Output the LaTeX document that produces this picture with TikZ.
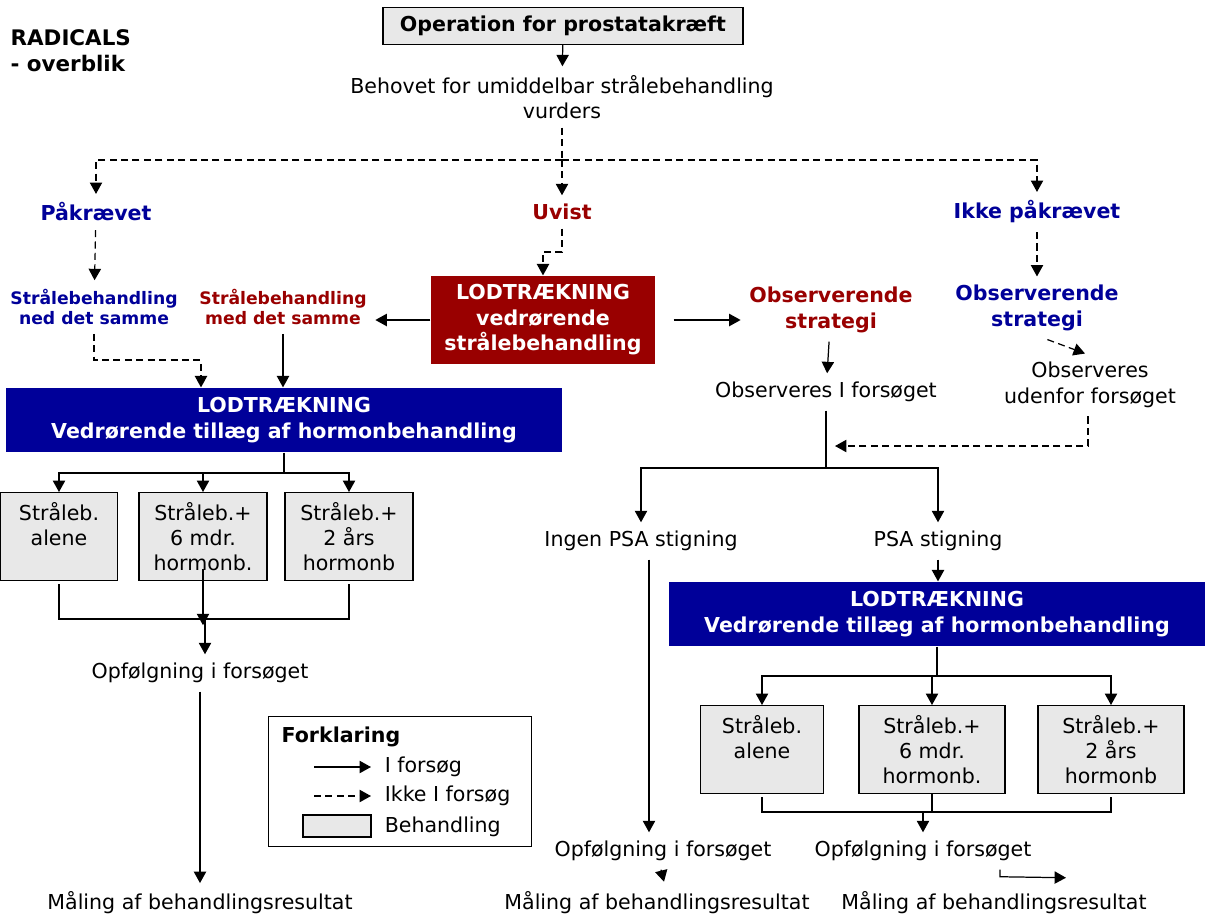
\documentclass[tikz,border=0pt]{standalone}
\usepackage{fontspec}
\setmainfont{DejaVu Sans}
\usetikzlibrary{arrows.meta}
\definecolor{lotblue}{HTML}{000099}
\definecolor{lotred}{HTML}{990000}
\definecolor{boxgray}{HTML}{E8E8E8}
\newcommand\mainfs{\fontsize{11.7}{14.5}\selectfont}
\newcommand\smallfs{\fontsize{9.8}{11.6}\selectfont}

\begin{document}
\begin{tikzpicture}[
    x=0.02cm, y=-0.02cm,
    font=\mainfs,
    line width=0.7pt,
    arr/.style={-{Triangle[length=6.5pt,width=7pt]}},
    dsh/.style={arr, dash pattern=on 4pt off 2.5pt},
    lbl/.style={align=center, inner sep=1pt, outer sep=4pt},
    bluelbl/.style={lbl, text=lotblue, font=\mainfs\bfseries},
    redlbl/.style={lbl, text=lotred, font=\mainfs\bfseries},
    headbox/.style={draw, fill=boxgray, font=\mainfs\bfseries,
      minimum width=7.2cm, minimum height=0.74cm},
    lotbox/.style={align=center, text=white, font=\mainfs\bfseries, inner sep=0pt},
    behbox/.style={draw, fill=boxgray, align=center, anchor=north,
      minimum height=1.76cm, inner sep=2pt},
  ]
  \useasboundingbox (0,0) rectangle (1211,917);

  \node[anchor=north west, align=left, font=\fontsize{12.2}{14.8}\selectfont\bfseries, inner sep=0pt] (title)
    at (10,29) {RADICALS\\- overblik};

  \node[headbox] (op) at (563,26) {Operation for prostatakræft};
  \node[lbl] (beh) at (562,97) {Behovet for umiddelbar strålebehandling\\vurders};

  \node[bluelbl] (pak) at (96,212) {Påkrævet};
  \node[redlbl] (uvist) at (562,212) {Uvist};
  \node[bluelbl] (ikke) at (1037,212) {Ikke påkrævet};
  \coordinate (split) at (562,160);

  \node[bluelbl, font=\smallfs\bfseries] (st1) at (94,307) {Strålebehandling\\ned det samme};
  \node[redlbl, font=\smallfs\bfseries] (st2) at (283,307) {Strålebehandling\\med det samme};
  \node[lotbox, fill=lotred, minimum width=4.48cm, minimum height=1.76cm] (lotr)
    at (543,320) {LODTRÆKNING\\vedrørende\\strålebehandling};
  \node[redlbl] (obsr) at (831,310) {Observerende\\strategi};
  \node[bluelbl] (obsb) at (1037,308) {Observerende\\strategi};

  \node[lotbox, fill=lotblue, minimum width=11.14cm, minimum height=1.28cm] (lotb)
    at (284,420) {LODTRÆKNING\\Vedrørende tillæg af hormonbehandling};
  \coordinate (j1) at (201,360);
  \coordinate (b1) at (284,473);

  \node[behbox, minimum width=2.34cm] (g1) at (59,492) {Stråleb.\\alene\\~};
  \node[behbox, minimum width=2.56cm] (g2) at (203,492) {Stråleb.+\\6 mdr.\\hormonb.};
  \node[behbox, minimum width=2.56cm] (g3) at (349,492) {Stråleb.+\\2 års\\hormonb};
  \coordinate (jl) at (205,619);
  \node[lbl] (opl) at (200,673) {Opfølgning i forsøget};
  \node[lbl] (mall) at (200,903) {Måling af behandlingsresultat};

  \node[draw, anchor=north west, minimum width=5.26cm, minimum height=2.6cm] (leg) at (268,716) {};
  \node[anchor=west, font=\mainfs\bfseries, inner sep=0pt] (legt) at (281,737) {Forklaring};
  \node[lbl, anchor=west] (lt1) at (376,767) {I forsøg};
  \node[lbl, anchor=west] (lt2) at (376,796) {Ikke I forsøg};
  \node[lbl, anchor=west] (lt3) at (376,827) {Behandling};
  \node[draw, fill=boxgray, minimum width=1.36cm, minimum height=0.44cm, inner sep=0pt] (legbox)
    at (337,826) {};

  \node[lbl] (obsI) at (826,392) {Observeres I forsøget};
  \node[lbl] (obsU) at (1090,385) {Observeres\\udenfor forsøget};
  \coordinate (k) at (835,446);
  \coordinate (b2) at (826,468);
  \node[lbl] (ingen) at (641,541) {Ingen PSA stigning};
  \node[lbl] (psa) at (938,541) {PSA stigning};

  \node[lotbox, fill=lotblue, minimum width=10.74cm, minimum height=1.28cm] (lotb2)
    at (937,614) {LODTRÆKNING\\Vedrørende tillæg af hormonbehandling};
  \coordinate (b3) at (937,676);
  \node[behbox, minimum width=2.46cm] (h1) at (762,705) {Stråleb.\\alene\\~};
  \node[behbox, minimum width=2.92cm] (h2) at (932,705) {Stråleb.+\\6 mdr.\\hormonb.};
  \node[behbox, minimum width=2.92cm] (h3) at (1111,705) {Stråleb.+\\2 års\\hormonb};
  \coordinate (jr) at (932,812);
  \node[lbl] (opm) at (663,851) {Opfølgning i forsøget};
  \node[lbl] (opr) at (923,851) {Opfølgning i forsøget};
  \node[lbl] (malm) at (657,903) {Måling af behandlingsresultat};
  \node[lbl] (malr) at (994,903) {Måling af behandlingsresultat};

  \draw[arr] (op) -- (beh);
  \draw[dash pattern=on 4pt off 2.5pt] (beh) -- (split);
  \draw[dsh] (split) -| (pak);
  \draw[dsh] (split) -- (uvist);
  \draw[dsh] (split) -| (ikke);

  \draw[dsh] (pak) -- (st1);
  \draw[dsh] (uvist) -- (uvist |- 0,252) -| (lotr);
  \draw[dsh] (ikke) -- (obsb);
  \draw[arr] (lotr.west) -- (lotr.west -| st2.east);
  \draw[arr] ([xshift=.36cm]lotr.east) -- (lotr.east -| obsr.west);

  \draw[dsh] (st1) |- (j1) -- (j1 |- lotb.north);
  \draw[arr] (st2) -- (st2 |- lotb.north);
  \draw (lotb) -- (b1);
  \draw[arr] (b1) -| (g1);
  \draw[arr] (b1) -| (g2);
  \draw[arr] (b1) -| (g3);
  \draw ([yshift=-.06cm]g1.south) |- (jl) -| ([yshift=-.06cm]g3.south);
  \draw[arr] (g2.south) ++(0,-12) -- ++(0,56);
  \draw[arr] (jl) -- (jl |- opl.north);
  \draw[arr] (opl) -- (mall);

  \draw[arr] (lt1.west) ++(-62,0) -- ++(57,0);
  \draw[dsh] (lt2.west) ++(-62,0) -- ++(57,0);

  \draw[arr] (obsr) -- (obsI);
  \draw[dsh] (obsb.south east) ++(-80,0) -- ([xshift=-.1cm]obsU.north);
  \draw[dsh] ([xshift=-.04cm]obsU.south) |- (k);
  \draw (obsI) -- (b2);
  \draw[arr] (b2) -| (ingen);
  \draw[arr] (b2) -| (psa);
  \draw[arr] ([xshift=.16cm]ingen.south) -- ([xshift=.16cm]ingen.south |- opm.north);
  \draw[arr] (psa) -- (psa |- lotb2.north);
  \draw (lotb2) -- (b3);
  \draw[arr] (b3) -| (h1);
  \draw[arr] (b3) -| (h2);
  \draw[arr] (b3) -| (h3);
  \draw ([yshift=-.06cm]h1.south) |- (jr) -| ([yshift=-.06cm]h3.south);
  \draw (h2.south) -- (jr);
  \draw[arr] (jr -| opr) -- (opr);
  \draw[arr] (opm.south) ++(-2,0) -- ++(3,12);
  \draw[arr] (opr.south) ++(77,0) -- ++(0,7) -- ++(66,1);
\end{tikzpicture}
\end{document}
